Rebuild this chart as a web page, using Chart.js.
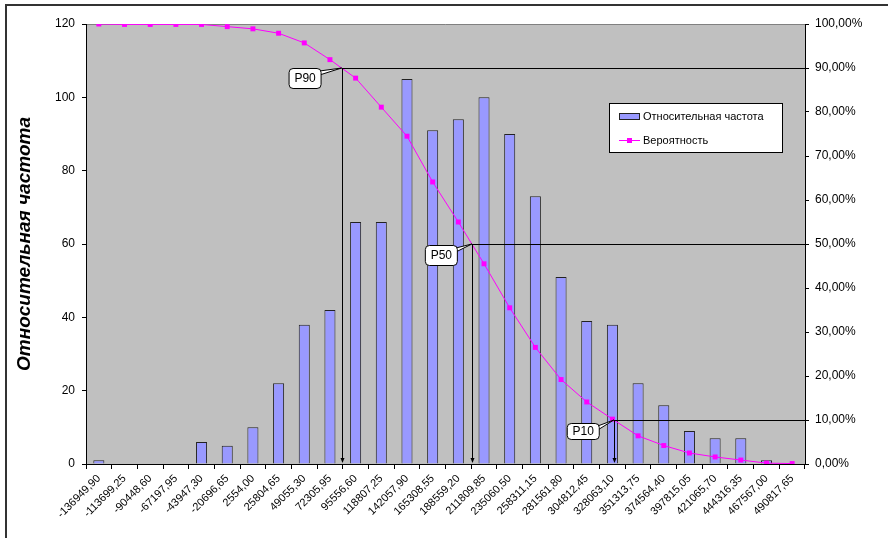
<!DOCTYPE html>
<html>
<head>
  <title>Относительная частота</title>
  <script src="https://cdn.jsdelivr.net/npm/chart.js"></script>
  <style>
    body { margin: 0; background: #fff; }
    #wrap { width: 888px; height: 538px; }
  </style>
</head>
<body>
  <div id="wrap"><canvas id="freqChart" width="888" height="538"></canvas></div>

  <script>
    // bin labels (lower bound of each class)
    var categories = ["-136949,90", "-113699,25", "-90448,60", "-67197,95", "-43947,30", "-20696,65",
      "2554,00", "25804,65", "49055,30", "72305,95", "95556,60", "118807,25", "142057,90", "165308,55",
      "188559,20", "211809,85", "235060,50", "258311,15", "281561,80", "304812,45", "328063,10",
      "351313,75", "374564,40", "397815,05", "421065,70", "444316,35", "467567,00", "490817,65"];

    var frequency = [1, 0, 0, 0, 6, 5, 10, 22, 38, 42, 66, 66, 105, 91, 94, 100, 90, 73, 51, 39, 38, 22, 16, 9, 7, 7, 1, 0];

    // exceedance probability, %
    var probability = [100, 99.9, 99.9, 99.9, 99.9, 99.4, 98.9, 97.9, 95.7, 91.9, 87.7, 81.1, 74.5, 64.1,
      55.0, 45.5, 35.5, 26.5, 19.2, 14.1, 10.2, 6.4, 4.2, 2.5, 1.6, 0.9, 0.2, 0.1];

    var percentileNames = ["P90", "P50", "P10"];
    var percentileLevels = [90, 50, 10];

    var leftTicks = [0, 20, 40, 60, 80, 100, 120];

    // where the probability curve crosses a level (fractional category index)
    function crossing(level) {
      for (var i = 0; i < probability.length - 1; i++) {
        if (probability[i] >= level && probability[i + 1] < level) {
          return i + (probability[i] - level) / (probability[i] - probability[i + 1]);
        }
      }
      return 0;
    }

    function roundRect(ctx, x, y, w, h, r) {
      ctx.beginPath();
      ctx.moveTo(x + r, y);
      ctx.lineTo(x + w - r, y);
      ctx.quadraticCurveTo(x + w, y, x + w, y + r);
      ctx.lineTo(x + w, y + h - r);
      ctx.quadraticCurveTo(x + w, y + h, x + w - r, y + h);
      ctx.lineTo(x + r, y + h);
      ctx.quadraticCurveTo(x, y + h, x, y + h - r);
      ctx.lineTo(x, y + r);
      ctx.quadraticCurveTo(x, y, x + r, y);
      ctx.closePath();
    }

    var excelLook = {
      id: "excelLook",
      beforeDraw: function(chart) {
        var ctx = chart.ctx, a = chart.chartArea;
        ctx.save();
        ctx.fillStyle = "#fff";
        ctx.fillRect(0, 0, chart.width, chart.height);
        // outer frame
        ctx.strokeStyle = "#333";
        ctx.lineWidth = 2;
        ctx.strokeRect(6, 5, chart.width + 20, chart.height + 20);
        // plot area
        ctx.fillStyle = "#c0c0c0";
        ctx.fillRect(a.left, a.top, a.right - a.left, a.bottom - a.top);
        ctx.strokeStyle = "#808080";
        ctx.lineWidth = 1;
        ctx.beginPath();
        ctx.moveTo(a.left, a.top + 0.5);
        ctx.lineTo(a.right, a.top + 0.5);
        ctx.stroke();
        ctx.restore();
      },
      afterDatasetsDraw: function(chart) {
        var ctx = chart.ctx, a = chart.chartArea;
        var xs = chart.scales.x, ys = chart.scales.y1;
        ctx.save();
        for (var k = 0; k < percentileLevels.length; k++) {
          var px = xs.getPixelForValue(crossing(percentileLevels[k]));
          var py = ys.getPixelForValue(percentileLevels[k]);
          ctx.strokeStyle = "#000";
          ctx.lineWidth = 1;
          ctx.beginPath();
          ctx.moveTo(px, Math.round(py) + 0.5);
          ctx.lineTo(a.right, Math.round(py) + 0.5);
          ctx.moveTo(Math.round(px) + 0.5, py);
          ctx.lineTo(Math.round(px) + 0.5, a.bottom - 2);
          ctx.stroke();
          // arrow head
          ctx.fillStyle = "#000";
          ctx.beginPath();
          ctx.moveTo(Math.round(px) + 0.5, a.bottom - 1);
          ctx.lineTo(Math.round(px) - 1.5, a.bottom - 6);
          ctx.lineTo(Math.round(px) + 2.5, a.bottom - 6);
          ctx.closePath();
          ctx.fill();

          // callout
          var bw = 32, bh = k === 2 ? 16 : 20;
          var gap = k === 0 ? 21 : 15;
          var bx = px - gap - bw, by = py + (k === 0 ? 0 : (k === 1 ? 1 : 3));
          ctx.fillStyle = "#fff";
          ctx.strokeStyle = "#000";
          ctx.beginPath();
          ctx.moveTo(bx + bw - 1, by + 3);
          ctx.lineTo(px, py);
          ctx.lineTo(bx + bw - 1, by + 7);
          ctx.closePath();
          ctx.fill();
          ctx.stroke();
          roundRect(ctx, bx + 0.5, by + 0.5, bw, bh, 4);
          ctx.fill();
          ctx.stroke();
          ctx.fillStyle = "#000";
          ctx.font = "12px 'Liberation Sans', Arial, sans-serif";
          ctx.textAlign = "center";
          ctx.textBaseline = "middle";
          ctx.fillText(percentileNames[k], bx + bw / 2 + 0.5, by + bh / 2 + 1);
        }
        ctx.restore();
      },
      afterDraw: function(chart) {
        // legend box
        var ctx = chart.ctx;
        var ds = chart.data.datasets;
        var lx = 609, ly = 103, lw = 173, lh = 49;
        ctx.save();
        ctx.fillStyle = "#fff";
        ctx.fillRect(lx, ly, lw, lh);
        ctx.strokeStyle = "#000";
        ctx.lineWidth = 1;
        ctx.strokeRect(lx + 0.5, ly + 0.5, lw, lh);
        ctx.fillStyle = ds[1].backgroundColor;
        ctx.fillRect(lx + 10, ly + 10, 20, 6);
        ctx.strokeStyle = ds[1].borderColor;
        ctx.strokeRect(lx + 10.5, ly + 10.5, 20, 6);
        ctx.strokeStyle = ds[0].borderColor;
        ctx.beginPath();
        ctx.moveTo(lx + 10, ly + 37.5);
        ctx.lineTo(lx + 31, ly + 37.5);
        ctx.stroke();
        ctx.fillStyle = ds[0].pointBackgroundColor;
        ctx.fillRect(lx + 18, ly + 35, 5, 5);
        ctx.fillStyle = "#000";
        ctx.font = "11px 'Liberation Sans', Arial, sans-serif";
        ctx.textBaseline = "middle";
        ctx.fillText(ds[1].label, lx + 34, ly + 14);
        ctx.fillText(ds[0].label, lx + 34, ly + 37.5);
        ctx.restore();
      }
    };

    var ctx = document.getElementById("freqChart").getContext("2d");

    new Chart(ctx, {
      type: "bar",
      data: {
        labels: categories,
        datasets: [{
          type: "line",
          label: "Вероятность",
          data: probability,
          yAxisID: "y1",
          borderColor: "#ff00ff",
          borderWidth: 1,
          backgroundColor: "#ff00ff",
          pointBackgroundColor: "#ff00ff",
          pointBorderWidth: 0,
          pointStyle: "rect",
          pointRadius: 3.5,
          tension: 0,
          order: 0
        }, {
          label: "Относительная частота",
          data: frequency,
          yAxisID: "y",
          backgroundColor: "#9999ff",
          borderColor: "#222",
          borderWidth: 1,
          categoryPercentage: 1,
          barPercentage: 0.43,
          order: 1
        }]
      },
      options: {
        responsive: false,
        animation: false,
        layout: { padding: { left: 6, top: 24, right: 0, bottom: 0 } },
        plugins: {
          legend: { display: false },
          tooltip: { enabled: false }
        },
        scales: {
          x: {
            offset: true,
            grid: { drawOnChartArea: false, offset: true, color: "#000", tickLength: 5 },
            border: { color: "#000", width: 1 },
            ticks: {
              color: "#000",
              minRotation: 45,
              maxRotation: 45,
              autoSkip: false,
              padding: 3,
              font: { family: "'Liberation Sans', Arial, sans-serif", size: 11 }
            },
            afterFit: function(scale) { scale.height = 74; }
          },
          y: {
            position: "left",
            min: 0,
            max: 120,
            afterBuildTicks: function(scale) {
              scale.ticks = leftTicks.map(function(v) { return { value: v }; });
            },
            grid: { drawOnChartArea: false, color: "#000", tickLength: 4 },
            border: { color: "#000", width: 1 },
            ticks: {
              color: "#000",
              padding: 7,
              font: { family: "'Liberation Sans', Arial, sans-serif", size: 12 }
            },
            title: {
              display: true,
              text: "Относительная частота",
              color: "#000",
              padding: { top: 7, bottom: 0 },
              font: { family: "'Liberation Sans', Arial, sans-serif", size: 19, weight: "bold", style: "italic" }
            },
            afterFit: function(scale) { scale.width = 80; }
          },
          y1: {
            position: "right",
            min: 0,
            max: 100,
            grid: { drawOnChartArea: false, color: "#000", tickLength: 4 },
            border: { color: "#000", width: 1 },
            ticks: {
              stepSize: 10,
              color: "#000",
              padding: 6,
              font: { family: "'Liberation Sans', Arial, sans-serif", size: 12 },
              callback: function(v) { return v.toFixed(2).replace(".", ",") + "%"; }
            },
            afterFit: function(scale) { scale.width = 83; }
          }
        }
      },
      plugins: [excelLook]
    });
  </script>
</body>
</html>
